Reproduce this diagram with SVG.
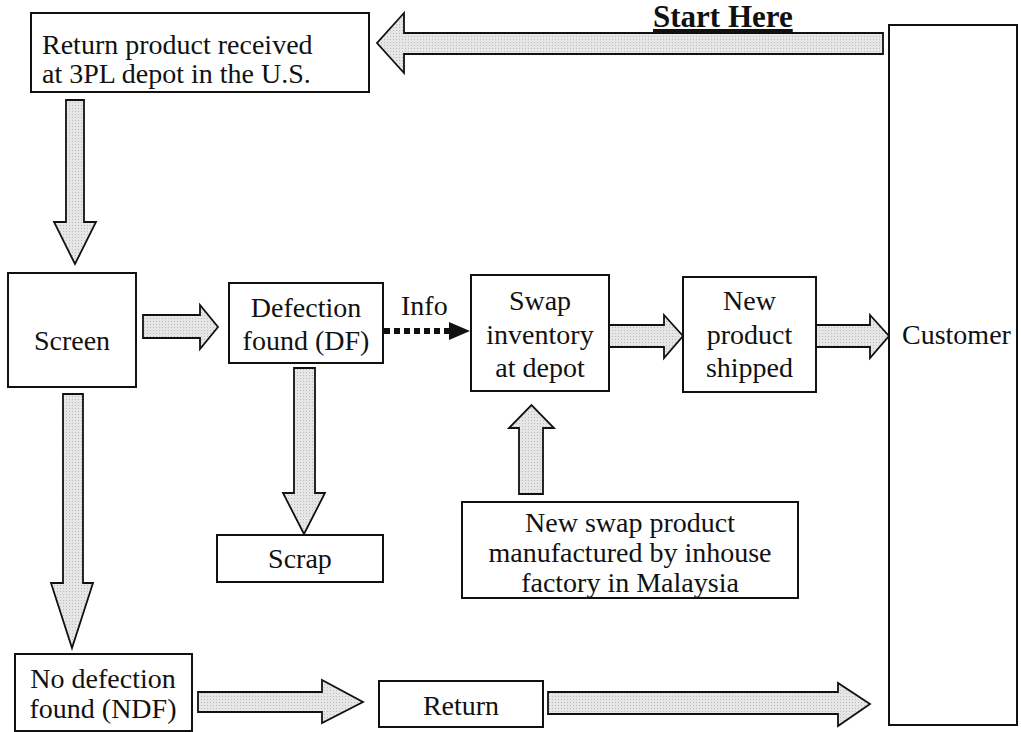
<svg xmlns="http://www.w3.org/2000/svg" width="1021" height="732" viewBox="0 0 1021 732">
<defs>
<pattern id="dots" width="3" height="3" patternUnits="userSpaceOnUse">
<rect width="3" height="3" fill="#e6e6e6"/>
<rect width="1" height="1" fill="#bdbdbd"/>
</pattern>
<style>
.box{fill:#fff;stroke:#111;stroke-width:2}
.arr{fill:url(#dots);stroke:#111;stroke-width:1.8;stroke-linejoin:miter}
.t{font-family:"Liberation Serif","Times New Roman",serif;font-size:28px;fill:#111}
.c{text-anchor:middle}
.title{font-size:31px;font-weight:bold;text-decoration:underline}
</style>
</defs>
<rect width="1021" height="732" fill="#fff"/>
<g id="connectors">
<polygon class="arr" points="883,33 404,33 404,13 377,43 404,73 404,54 883,54"/>
<polygon class="arr" points="66,100 84,100 84,222 96,222 75,264 54,222 66,222"/>
<polygon class="arr" points="143,315 200,315 200,305 218,327 200,349 200,338 143,338"/>
<line x1="384" y1="331" x2="450" y2="331" stroke="#111" stroke-width="6" stroke-dasharray="6 4"/>
<polygon points="449,322 470,331 449,340" fill="#111"/>
<polygon class="arr" points="609,325 664,325 664,315 683,336 664,358 664,347 609,347"/>
<polygon class="arr" points="816,325 870,325 870,315 889,336 870,358 870,347 816,347"/>
<polygon class="arr" points="519,494 519,428 509,428 531.5,405 554,428 543,428 543,494"/>
<polygon class="arr" points="294,368 315,368 315,493 325,493 304,534 283,493 294,493"/>
<polygon class="arr" points="63,394 83,394 83,583 93,583 72,648 51,583 63,583"/>
<polygon class="arr" points="198,692 322,692 322,680 363,702 322,723 322,712 198,712"/>
<polygon class="arr" points="548,692 838,692 838,683 870,704 838,726 838,714 548,714"/>
</g>
<g id="start-label">
<text class="t title" x="653" y="27">Start Here</text>
</g>
<g id="info-label">
<text class="t" x="401" y="315">Info</text>
</g>
<g id="return-received">
<rect class="box" x="31" y="13" width="338" height="79"/>
<text class="t" x="42" y="54">Return product received</text>
<text class="t" x="42" y="83">at 3PL depot in the U.S.</text>
</g>
<g id="screen">
<rect class="box" x="8" y="273" width="128" height="114"/>
<text class="t c" x="72" y="350">Screen</text>
</g>
<g id="defection-found">
<rect class="box" x="229" y="283" width="154" height="80"/>
<text class="t c" x="306" y="317">Defection</text>
<text class="t c" x="306" y="350">found (DF)</text>
</g>
<g id="swap-inventory">
<rect class="box" x="471" y="275" width="138" height="116"/>
<text class="t c" x="540" y="310">Swap</text>
<text class="t c" x="540" y="344">inventory</text>
<text class="t c" x="540" y="377">at depot</text>
</g>
<g id="new-product-shipped">
<rect class="box" x="683" y="277" width="133" height="115"/>
<text class="t c" x="749.5" y="310">New</text>
<text class="t c" x="749.5" y="344">product</text>
<text class="t c" x="749.5" y="377">shipped</text>
</g>
<g id="customer">
<rect class="box" x="889" y="25" width="128" height="700"/>
<text class="t" x="902" y="344">Customer</text>
</g>
<g id="scrap">
<rect class="box" x="217" y="535" width="166" height="47"/>
<text class="t c" x="300" y="568">Scrap</text>
</g>
<g id="new-swap-product">
<rect class="box" x="462" y="502" width="336" height="96"/>
<text class="t c" x="630" y="532">New swap product</text>
<text class="t c" x="630" y="562">manufactured by inhouse</text>
<text class="t c" x="630" y="592">factory in Malaysia</text>
</g>
<g id="no-defection-found">
<rect class="box" x="15" y="654" width="177" height="77"/>
<text class="t c" x="103" y="688">No defection</text>
<text class="t c" x="103" y="718">found (NDF)</text>
</g>
<g id="return">
<rect class="box" x="379" y="681" width="164" height="46"/>
<text class="t c" x="461" y="715">Return</text>
</g>
</svg>
